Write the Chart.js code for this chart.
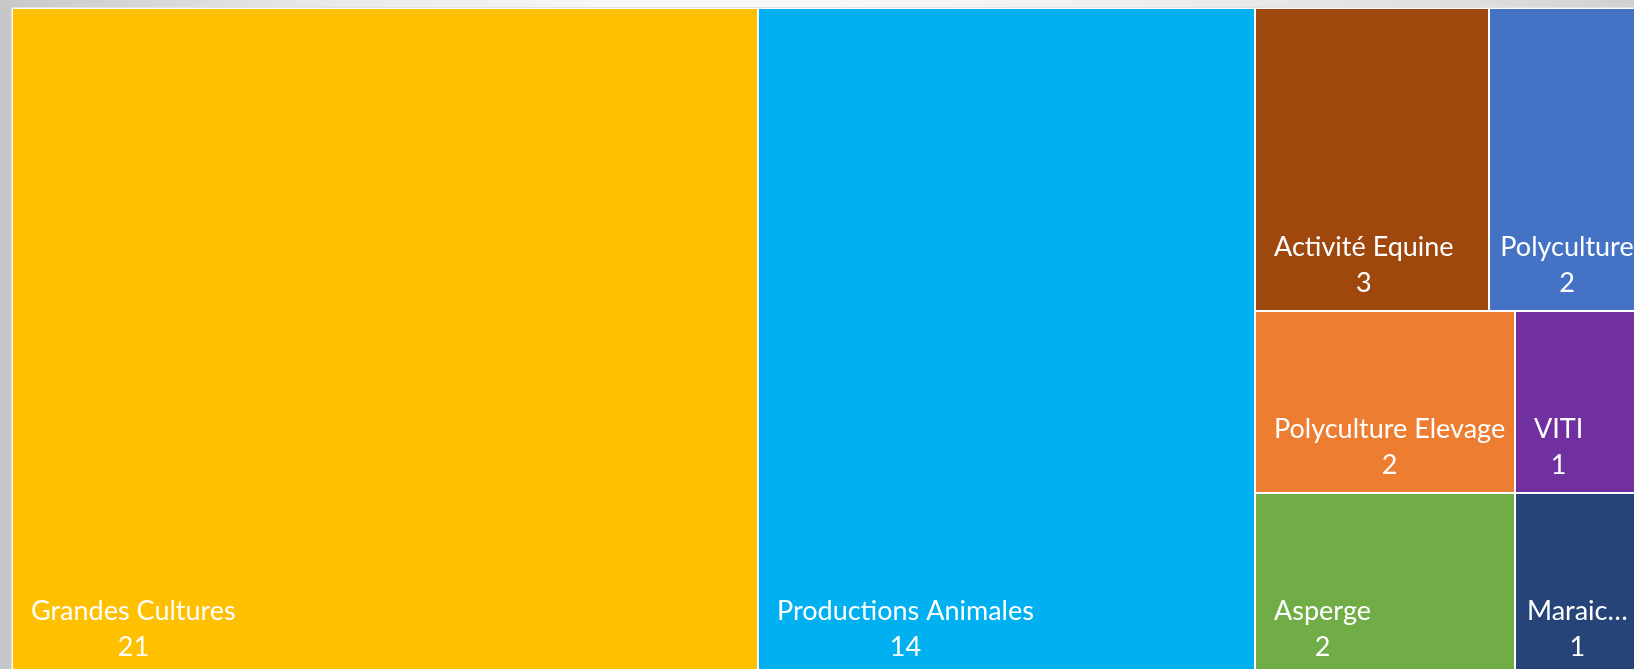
<!DOCTYPE html>
<html>
<head>
<meta charset="utf-8">
<script src="https://cdn.jsdelivr.net/npm/chart.js@4/dist/chart.umd.min.js"></script>
<style>
  html, body { margin: 0; padding: 0; }
  body { width: 1634px; height: 669px; overflow: hidden; background: #c6c6c6; position: relative; }
  #topStrip {
    position: absolute; left: 0; top: 0; width: 1634px; height: 7px;
    background: linear-gradient(to right, #c8c8c8 0%, #d2d2d2 6%, #e8e8e8 19%, #f8f8f8 38%, #f6f6f6 55%, #f0f0f0 68%, #dcdcdc 92%, #d0d0d0 100%);
  }
  #treemap { position: absolute; left: 11px; top: 7px; }
</style>
</head>
<body>
<div id="topStrip"></div>
<canvas id="treemap" width="1636" height="669"></canvas>
<script>
const categories = ['Grandes Cultures', 'Productions Animales', 'Activité Equine', 'Polyculture',
    'Polyculture Elevage', 'Asperge', 'VITI', 'Maraichage'];
const counts = [21, 14, 3, 2, 2, 2, 1, 1];
const colors = ['#FFC000', '#00B0F0', '#9E480E', '#4472C4', '#ED7D31', '#70AD47', '#7030A0', '#264478'];

const labelFont = '27px Lato';

function worst(row, side) {
    const s = row.reduce((a, b) => a + b, 0);
    const mx = Math.max(...row), mn = Math.min(...row);
    return Math.max(side * side * mx / (s * s), (s * s) / (side * side * mn));
}

// squarified layout, values sorted descending
function squarify(values, x, y, w, h) {
    const total = values.reduce((a, b) => a + b, 0);
    const areas = values.map(v => v * w * h / total);
    const rects = [];
    let i = 0;
    while (i < areas.length) {
        const side = Math.min(w, h);
        const row = [areas[i++]];
        while (i < areas.length && worst(row.concat([areas[i]]), side) <= worst(row, side)) {
            row.push(areas[i++]);
        }
        const sum = row.reduce((a, b) => a + b, 0);
        if (w >= h) {
            const t = sum / h;
            let yy = y;
            row.forEach(a => { rects.push({ x0: x, y0: yy, x1: x + t, y1: yy + a / t }); yy += a / t; });
            x += t; w -= t;
        } else {
            const t = sum / w;
            let xx = x;
            row.forEach(a => { rects.push({ x0: xx, y0: y, x1: xx + a / t, y1: y + t }); xx += a / t; });
            y += t; h -= t;
        }
    }
    return rects;
}

function fitLabel(ctx, text, maxW) {
    if (ctx.measureText(text).width <= maxW) return text;
    let s = text;
    while (s.length > 1 && ctx.measureText(s + '…').width > maxW) s = s.slice(0, -1);
    return s + '…';
}

const treemapPlugin = {
    id: 'treemapCells',
    beforeDatasetsDraw(chart) {
        const { ctx, chartArea, scales } = chart;
        const ar = chartArea.width / chartArea.height;
        const rects = squarify(counts, 0, 0, ar, 1);

        ctx.save();
        ctx.fillStyle = '#ffffff';
        ctx.fillRect(0, 0, chart.width, chart.height);
        ctx.fillStyle = '#e2e2e2';
        ctx.fillRect(0, 0, 1, chart.height);
        ctx.fillRect(0, 0, chart.width, 1);

        rects.forEach((r, i) => {
            const px0 = Math.round(scales.x.getPixelForValue(r.x0 / ar));
            const px1 = Math.round(scales.x.getPixelForValue(r.x1 / ar));
            const py0 = Math.round(scales.y.getPixelForValue(r.y0));
            const py1 = Math.round(scales.y.getPixelForValue(r.y1));
            const x0 = px0 + 1, y0 = py0 + 1, w = px1 - px0 - 2, h = py1 - py0 - 2;
            ctx.fillStyle = colors[i];
            ctx.fillRect(x0, y0, w, h);

            ctx.font = labelFont;
            ctx.fillStyle = '#ffffff';
            ctx.textBaseline = 'alphabetic';
            let text = categories[i];
            let tw = ctx.measureText(text).width;
            let pad = 18;
            if (tw + pad + 8 > w) {
                if (tw <= w - 16) {
                    pad = (w - tw) / 2;
                } else {
                    text = fitLabel(ctx, text, w - 22);
                    tw = ctx.measureText(text).width;
                    pad = 11;
                }
            }
            const valueBase = y0 + h - 18;
            ctx.textAlign = 'left';
            ctx.fillText(text, x0 + pad, valueBase - 36);
            ctx.textAlign = 'center';
            ctx.fillText(String(counts[i]), x0 + pad + tw / 2, valueBase);
        });
        ctx.restore();
    }
};

new Chart(document.getElementById('treemap'), {
    type: 'scatter',
    data: { datasets: [{ label: 'Nombre', data: [], pointRadius: 0 }] },
    options: {
        responsive: false,
        animation: false,
        layout: { padding: { left: 1, top: 1, right: 2, bottom: 1 } },
        plugins: { legend: { display: false }, tooltip: { enabled: false } },
        scales: {
            x: { type: 'linear', min: 0, max: 1, display: false },
            y: { type: 'linear', min: 0, max: 1, reverse: true, display: false }
        }
    },
    plugins: [treemapPlugin]
});
</script>
</body>
</html>
